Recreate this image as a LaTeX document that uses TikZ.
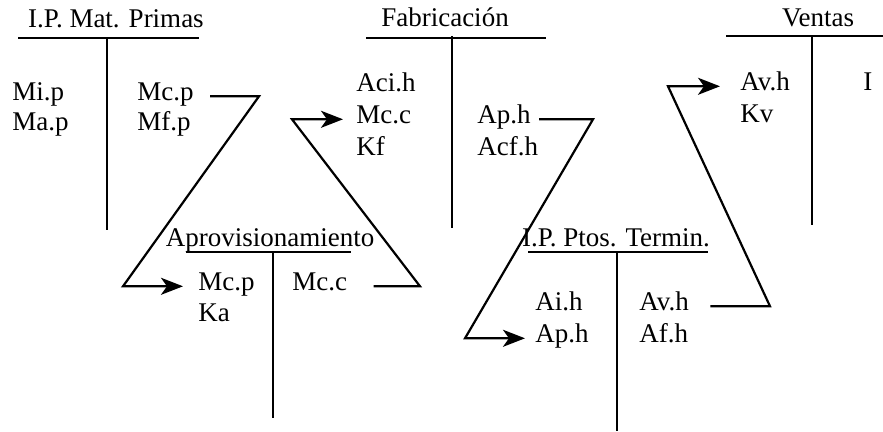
\documentclass[tikz,border=0pt]{standalone}
\usepackage{fontspec}
\setmainfont{Liberation Serif}
\usetikzlibrary{arrows.meta}
\tikzset{
  txt/.style={anchor=base west, inner sep=0pt, text height=0.69em, text depth=0.22em, font=\fontsize{13.5}{16}\selectfont},
  ttl/.style={anchor=base, inner sep=0pt, font=\fontsize{13.5}{16}\selectfont},
  cuenta/.style={line width=1.3pt},
  flujo/.style={line width=1.1pt, -{Stealth[length=11pt,width=8.5pt,inset=3pt]}},
}
\begin{document}
\begin{tikzpicture}[x=0.5pt,y=-0.5pt]
\useasboundingbox (0,0) rectangle (883,432);
% I.P. Mat. Primas
\node[ttl] (tMP) at (116,28) {I.P. Mat. Primas};
\draw[cuenta] (18,38) -- (199,38) (107,38) -- (107,230);
\node[txt] (mipMP) at (12,101) {Mi.p};
\node[txt] (mapMP) at (12,131) {Ma.p};
\node[txt] (mcpMP) at (137,101) {Mc.p};
\node[txt] (mfpMP) at (137,131) {Mf.p};
% Fabricacion
\node[ttl] (tFB) at (445,27) {Fabricación};
\draw[cuenta] (366,38) -- (546,38) (452,36) -- (452,228);
\node[txt] (acihFB) at (356,92) {Aci.h};
\node[txt] (mccFB) at (356,124) {Mc.c};
\node[txt] (kfFB) at (356,156) {Kf};
\node[txt] (aphFB) at (477,124) {Ap.h};
\node[txt] (acfhFB) at (477,156) {Acf.h};
% Ventas
\node[ttl] (tV) at (818,27) {Ventas};
\draw[cuenta] (726,36) -- (883,36) (812,36) -- (812,225);
\node[txt] (avhV) at (740,91) {Av.h};
\node[txt] (kvV) at (740,123) {Kv};
\node[txt] (iV) at (863,91) {I};
% Aprovisionamiento
\node[ttl] (tAP) at (270,247) {Aprovisionamiento};
\draw[cuenta] (186,252) -- (351,252) (273,252) -- (273,418);
\node[txt] (mcpAP) at (198,291) {Mc.p};
\node[txt] (kaAP) at (198,322) {Ka};
\node[txt] (mccAP) at (292,291) {Mc.c};
% I.P. Ptos. Termin.
\node[ttl] (tPT) at (616,247) {I.P. Ptos. Termin.};
\draw[cuenta] (528,252) -- (708,252) (617,252) -- (617,431);
\node[txt] (aihPT) at (535,311) {Ai.h};
\node[txt] (aphPT) at (535,343) {Ap.h};
\node[txt] (avhPT) at (639,311) {Av.h};
\node[txt] (afhPT) at (639,343) {Af.h};
% flujos
\coordinate (k1) at (259,97);  \coordinate (k2) at (123,279);
\coordinate (k3) at (420,287); \coordinate (k4) at (292,113);
\coordinate (k5) at (593,113); \coordinate (k6) at (465,332);
\coordinate (k7) at (770,303); \coordinate (k8) at (668,84);
\draw[flujo] ([xshift=8pt]mcpMP.east) -- (mcpMP.east -| k1) -- (k2 |- mcpAP.west) -- ([xshift=-7.5pt]mcpAP.west);
\draw[flujo] ([xshift=13pt]mccAP.east) -- (mccAP.east -| k3) -- (k4 |- mccFB.west) -- ([xshift=-6.5pt]mccFB.west);
\draw[flujo] ([xshift=4pt]aphFB.east) -- (aphFB.east -| k5) -- (k6 |- aphPT.west) -- ([xshift=-5pt]aphPT.west);
\draw[flujo] ([xshift=10.5pt]avhPT.east) -- (avhPT.east -| k7) -- (k8 |- avhV.west) -- ([xshift=-10pt]avhV.west);
\end{tikzpicture}
\end{document}
